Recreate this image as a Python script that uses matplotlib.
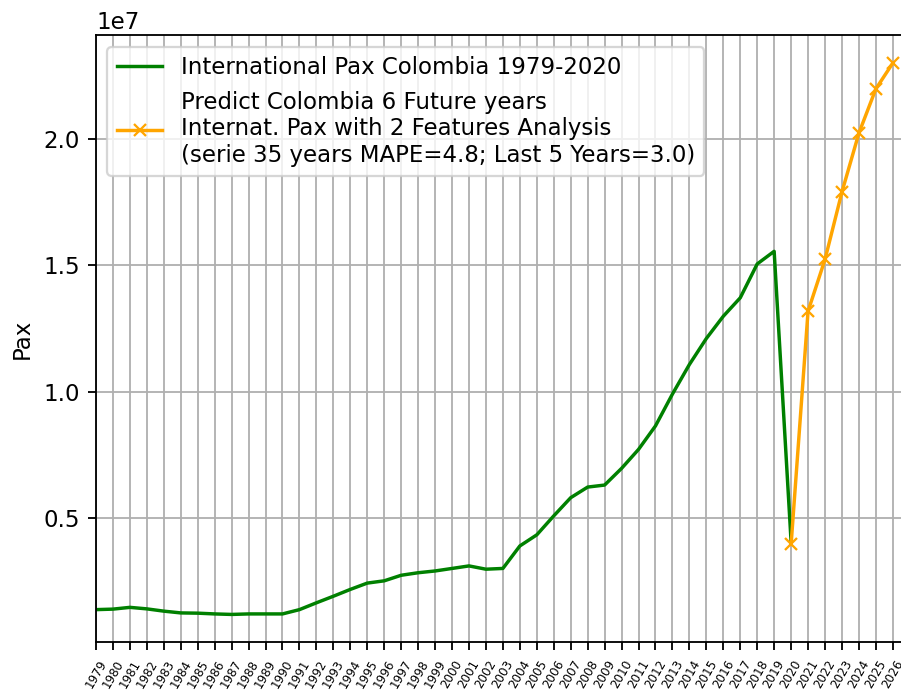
import numpy as np
import matplotlib
matplotlib.use("Agg")
import matplotlib.pyplot as plt

# Pasajeros internacionales Colombia (serie real)
years = list(range(1979, 2021))
pax = [1.37e6, 1.39e6, 1.46e6, 1.40e6, 1.31e6, 1.24e6, 1.23e6, 1.20e6, 1.18e6, 1.20e6,
       1.20e6, 1.20e6, 1.37e6, 1.64e6, 1.90e6, 2.17e6, 2.42e6, 2.51e6, 2.73e6, 2.83e6,
       2.90e6, 3.00e6, 3.10e6, 2.97e6, 3.00e6, 3.89e6, 4.33e6, 5.08e6, 5.80e6, 6.22e6,
       6.30e6, 6.96e6, 7.71e6, 8.64e6, 9.90e6, 1.107e7, 1.21e7, 1.298e7, 1.371e7, 1.505e7,
       1.555e7, 4.05e6]

# Prediccion 6 anos futuros
pred_years = list(range(2020, 2027))
pred_pax = [3.95e6, 1.318e7, 1.523e7, 1.79e7, 2.023e7, 2.198e7, 2.30e7]

tick_years = list(range(1979, 2027))

label_real = "International Pax Colombia 1979-2020"
label_pred = ("Predict Colombia 6 Future years\n"
              "Internat. Pax with 2 Features Analysis\n"
              "(serie 35 years MAPE=4.8; Last 5 Years=3.0)")

dpi = 165
fig = plt.figure(figsize=(901 / dpi, 692 / dpi), dpi=dpi)
ax = fig.add_axes([96 / 901, 50 / 692, 807 / 901, 606.5 / 692])

ax.plot(years, pax, color="green", label=label_real)
ax.plot(pred_years, pred_pax, color="orange", marker="x", markersize=5, label=label_pred)

ax.set_xlim(1979, 2026.6)
ax.set_xticks(tick_years)
ax.set_xticklabels([str(y) for y in tick_years], rotation=60, fontsize=5.2)
ax.set_ylabel("Pax")
ax.grid(True)
ax.legend(loc="upper left")

fig.savefig("out.png", dpi=dpi)
